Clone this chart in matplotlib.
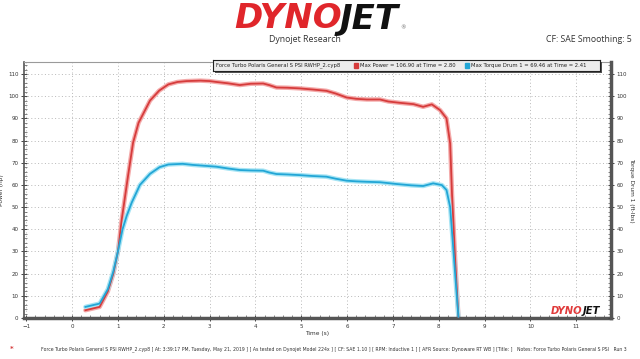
import matplotlib
matplotlib.use("Agg")
import matplotlib.pyplot as plt
from matplotlib.ticker import MultipleLocator
from matplotlib.patches import Rectangle

# ---------------- data ----------------
power_time = [0.29, 0.60, 0.78, 0.90, 1.00, 1.08, 1.22, 1.33, 1.45, 1.55, 1.70, 1.90, 2.10, 2.30,
              2.50, 2.80, 3.00, 3.15, 3.40, 3.66, 3.90, 4.17, 4.30, 4.46, 4.70, 4.97, 5.25, 5.55,
              5.75, 5.99, 6.20, 6.43, 6.72, 6.90, 7.15, 7.45, 7.66, 7.85, 8.03, 8.17, 8.25, 8.29,
              8.36, 8.41, 8.43]
power_hp = [3.5, 5.0, 12.0, 20.0, 30.0, 44.0, 64.0, 79.0, 88.0, 92.0, 98.0, 102.5, 105.3, 106.4,
            106.8, 107.0, 106.8, 106.4, 105.8, 105.0, 105.6, 105.7, 105.0, 103.9, 103.8, 103.5, 103.0, 102.4,
            101.2, 99.4, 98.8, 98.5, 98.5, 97.6, 97.0, 96.4, 95.2, 96.3, 93.7, 90.0, 78.7, 56.0,
            26.0, 8.0, 0.5]

torque_time = [0.29, 0.60, 0.78, 0.90, 1.00, 1.10, 1.19, 1.30, 1.48, 1.70, 1.91, 2.10, 2.41, 2.64,
               2.90, 3.15, 3.40, 3.66, 3.90, 4.17, 4.30, 4.46, 4.70, 4.97, 5.25, 5.55, 5.75, 5.99,
               6.20, 6.43, 6.72, 7.08, 7.40, 7.66, 7.88, 8.07, 8.17, 8.25, 8.31, 8.38, 8.43]
torque_ftlb = [5.0, 6.5, 13.0, 21.0, 30.0, 40.0, 46.0, 52.0, 60.0, 65.0, 68.0, 69.2, 69.5, 69.0,
               68.6, 68.2, 67.4, 66.7, 66.5, 66.4, 65.6, 64.9, 64.7, 64.4, 64.0, 63.7, 62.8, 61.9,
               61.6, 61.4, 61.2, 60.4, 59.8, 59.5, 60.7, 59.9, 57.7, 50.0, 33.6, 14.0, 0.5]

x_ticks = list(range(-1, 12))
y_ticks = list(range(0, 111, 10))

run_name = "Force Turbo Polaris General S PSI RWHP_2.cyp8"
legend_power = "Max Power = 106.90 at Time = 2.80"
legend_torque = "Max Torque Drum 1 = 69.46 at Time = 2.41"
footnote = ("Force Turbo Polaris General S PSI RWHP_2.cyp8 [ At: 3:39:17 PM, Tuesday, May 21, 2019 ] "
            "[ As tested on Dynojet Model 224x ] [ CF: SAE 1.10 ] [ RPM: Inductive 1 ] "
            "[ AFR Source: Dynoware RT WB ] [Title: ]   Notes: Force Turbo Polaris General S PSI   Run 3")

RED = "#d63c3c"
RED_GLOW = "#f4aaaa"
BLUE = "#22a6d6"
BLUE_GLOW = "#a6e4f4"

W, H = 640, 359
fig = plt.figure(figsize=(6.4, 3.59), dpi=100)
fig.patch.set_facecolor("white")
renderer = fig.canvas.get_renderer()

def fx(px):
    return px / W

def fy(py):
    return 1 - py / H

# ---------------- main axes ----------------
l, r, t, b = 24, 611, 62, 318
ax = fig.add_axes([fx(l), fy(b), fx(r) - fx(l), fy(t) - fy(b)])
ax.set_xlim(-1.05, 11.76)
ax.set_ylim(0, 115.4)

ax.plot(power_time, power_hp, color=RED_GLOW, lw=3.2, solid_capstyle="round", zorder=2)
ax.plot(torque_time, torque_ftlb, color=BLUE_GLOW, lw=3.2, solid_capstyle="round", zorder=2)
ax.plot(power_time, power_hp, color=RED, lw=1.3, zorder=3)
ax.plot(torque_time, torque_ftlb, color=BLUE, lw=1.3, zorder=3)

ax.set_xticks(x_ticks)
ax.set_yticks(y_ticks)
ax.xaxis.set_minor_locator(MultipleLocator(0.2))
ax.yaxis.set_minor_locator(MultipleLocator(2))
ax.grid(True, which="major", linestyle=(0, (1, 2.5)), color="#b8b8b8", lw=0.7)
ax.tick_params(axis="both", which="major", labelsize=4, colors="#444444", direction="inout",
               length=4, width=0.7, pad=2)
ax.tick_params(axis="both", which="minor", direction="in", length=2, width=0.5, colors="#555555")
for lab in ax.get_xticklabels() + ax.get_yticklabels():
    lab.set_color("#333333")

ax.spines["bottom"].set_linewidth(2.5)
ax.spines["bottom"].set_color("#555555")
ax.spines["left"].set_linewidth(1.2)
ax.spines["left"].set_color("#555555")
ax.spines["right"].set_visible(False)
ax.spines["top"].set_linewidth(0.8)
ax.spines["top"].set_color("#9a9a9a")

ax.set_xlabel("Time (s)", fontsize=4.2, color="#333333", labelpad=2)
ax.set_ylabel("Power (hp)", fontsize=4.2, color="#333333", labelpad=3)

ax2 = ax.twinx()
ax2.set_ylim(0, 115.4)
ax2.set_yticks(y_ticks)
ax2.yaxis.set_minor_locator(MultipleLocator(2))
ax2.tick_params(axis="y", which="major", labelsize=4, colors="#444444", direction="inout",
                length=4, width=0.7, pad=2)
ax2.tick_params(axis="y", which="minor", direction="in", length=2, width=0.5, colors="#555555")
for lab in ax2.get_yticklabels():
    lab.set_color("#333333")
for s in ["left", "top", "bottom"]:
    ax2.spines[s].set_visible(False)
ax2.spines["right"].set_linewidth(2.5)
ax2.spines["right"].set_color("#555555")
ax2.set_ylabel("Torque Drum 1 (ft-lbs)", fontsize=4.2, color="#333333", rotation=270, labelpad=5)


def logo(x0_px, yc_px, size, red="#e0262b", black="#111111", z=5):
    """Draw 'DYNO' + 'JET' side by side as real text, starting at x0_px."""
    t1 = fig.text(fx(x0_px), fy(yc_px), "DYNO", ha="left", va="center", fontsize=size,
                  fontweight="heavy", style="italic", color=red, family="DejaVu Sans", zorder=z)
    ext = t1.get_window_extent(renderer)
    t2 = fig.text(ext.x1 / W - 0.002 * size / 20, fy(yc_px), "JET", ha="left", va="center",
                  fontsize=size, fontweight="heavy", style="italic", color=black,
                  family="DejaVu Sans", zorder=z)
    return t1, t2

# ---------------- header ----------------
_, jt = logo(234, 19, 24.5)
je = jt.get_window_extent(renderer)
fig.text(je.x1 / W + 0.002, fy(28), "®", ha="left", va="center", fontsize=4, color="#666666")
fig.text(fx(305), fy(40), "Dynojet Research", ha="center", va="center", fontsize=6.3,
         color="#333333", family="Open Sans")
fig.text(fx(632), fy(40), "CF: SAE Smoothing: 5", ha="right", va="center", fontsize=6.3,
         color="#333333", family="Open Sans")

# watermark logo lower right inside plot
logo(551, 311, 7.2, red="#e03a3a", z=6)

# ---------------- legend box ----------------
lx0, lx1, ly0, ly1 = 213, 600, 60, 71
shadow = fig.add_axes([fx(lx0 + 2), fy(ly1 + 2), fx(lx1) - fx(lx0), fy(ly0) - fy(ly1)])
shadow.set_facecolor("#555555")
shadow.set_xticks([]); shadow.set_yticks([])
for s in shadow.spines.values():
    s.set_visible(False)
lg = fig.add_axes([fx(lx0), fy(ly1), fx(lx1) - fx(lx0), fy(ly0) - fy(ly1)])
lg.set_facecolor("#ececec")
lg.set_xticks([]); lg.set_yticks([])
lg.set_xlim(lx0, lx1); lg.set_ylim(0, 1)
for s in lg.spines.values():
    s.set_color("#222222"); s.set_linewidth(0.8)
lg.text(lx0 + 3, 0.5, run_name, fontsize=3.8, va="center", ha="left", color="#222222")
lg.add_patch(Rectangle((354, 0.3), 3.5, 0.4, color=RED))
lg.text(360, 0.5, legend_power, fontsize=3.8, va="center", ha="left", color="#222222")
lg.add_patch(Rectangle((465, 0.3), 3.5, 0.4, color=BLUE))
lg.text(471, 0.5, legend_torque, fontsize=3.8, va="center", ha="left", color="#222222")

# ---------------- footnote ----------------
fig.text(fx(12), fy(349), "*", ha="center", va="center", fontsize=5, color=RED, fontweight="bold")
fn = fig.text(fx(41), fy(349), footnote, ha="left", va="center", fontsize=3.0, color="#333333")
size = 3.0
for _ in range(20):
    trial = size + 0.05
    fn.set_fontsize(trial)
    if fn.get_window_extent(renderer).width > 592:
        fn.set_fontsize(size)
        break
    size = trial

fig.savefig("out.png", dpi=100, facecolor="white")
